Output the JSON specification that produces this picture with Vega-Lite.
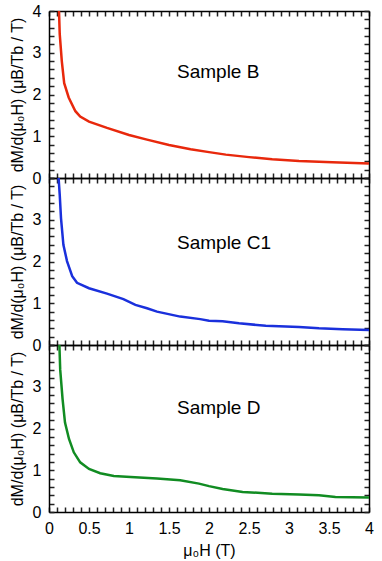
{
  "$schema": "https://vega.github.io/schema/vega-lite/v6.json",
  "padding": {"left": 9, "top": 3, "right": 5, "bottom": 5},
  "background": "white",
  "bounds": "flush",
  "spacing": 0,
  "datasets": {
    "B": [
      {"H": 0.125, "dM": 4.0}, {"H": 0.134, "dM": 3.45}, {"H": 0.16, "dM": 2.8}, {"H": 0.19, "dM": 2.27},
      {"H": 0.246, "dM": 1.93}, {"H": 0.33, "dM": 1.6}, {"H": 0.39, "dM": 1.47}, {"H": 0.5, "dM": 1.35},
      {"H": 0.725, "dM": 1.2}, {"H": 1.0, "dM": 1.03}, {"H": 1.225, "dM": 0.92}, {"H": 1.5, "dM": 0.79},
      {"H": 1.77, "dM": 0.69}, {"H": 2.0, "dM": 0.62}, {"H": 2.21, "dM": 0.56}, {"H": 2.5, "dM": 0.5},
      {"H": 2.79, "dM": 0.45}, {"H": 3.125, "dM": 0.41}, {"H": 3.54, "dM": 0.38}, {"H": 4.0, "dM": 0.35}
    ],
    "C1": [
      {"H": 0.12, "dM": 4.0}, {"H": 0.134, "dM": 3.6}, {"H": 0.15, "dM": 3.04}, {"H": 0.18, "dM": 2.4},
      {"H": 0.225, "dM": 2.01}, {"H": 0.29, "dM": 1.65}, {"H": 0.35, "dM": 1.49}, {"H": 0.5, "dM": 1.36},
      {"H": 0.725, "dM": 1.23}, {"H": 0.93, "dM": 1.1}, {"H": 1.08, "dM": 0.96}, {"H": 1.225, "dM": 0.88},
      {"H": 1.35, "dM": 0.8}, {"H": 1.64, "dM": 0.68}, {"H": 1.89, "dM": 0.62}, {"H": 2.0, "dM": 0.58},
      {"H": 2.17, "dM": 0.57}, {"H": 2.375, "dM": 0.52}, {"H": 2.71, "dM": 0.46}, {"H": 3.125, "dM": 0.43},
      {"H": 3.375, "dM": 0.4}, {"H": 3.67, "dM": 0.38}, {"H": 4.0, "dM": 0.36}
    ],
    "D": [
      {"H": 0.13, "dM": 4.0}, {"H": 0.14, "dM": 3.41}, {"H": 0.17, "dM": 2.7}, {"H": 0.2, "dM": 2.14},
      {"H": 0.25, "dM": 1.75}, {"H": 0.31, "dM": 1.43}, {"H": 0.39, "dM": 1.19}, {"H": 0.5, "dM": 1.03},
      {"H": 0.64, "dM": 0.93}, {"H": 0.81, "dM": 0.86}, {"H": 1.02, "dM": 0.84}, {"H": 1.35, "dM": 0.8},
      {"H": 1.64, "dM": 0.76}, {"H": 1.875, "dM": 0.68}, {"H": 2.0, "dM": 0.62}, {"H": 2.17, "dM": 0.55},
      {"H": 2.42, "dM": 0.48}, {"H": 2.79, "dM": 0.44}, {"H": 3.125, "dM": 0.42}, {"H": 3.375, "dM": 0.4},
      {"H": 3.58, "dM": 0.36}, {"H": 4.0, "dM": 0.35}
    ]
  },
  "config": {
    "view": {"stroke": null},
    "axis": {
      "grid": false,
      "domainColor": "black",
      "domainWidth": 1.5,
      "tickColor": "#222222",
      "tickWidth": 1.5,
      "labelFont": "Liberation Sans",
      "labelFontSize": 16,
      "labelColor": "black",
      "titleFont": "Liberation Sans",
      "titleFontSize": 16,
      "titleFontWeight": "normal",
      "titleColor": "black"
    }
  },
  "vconcat": [
    {
      "width": 320,
      "height": 167,
      "layer": [
        {
          "data": {"name": "B"},
          "mark": {"type": "line", "color": "#e8280c", "strokeWidth": 2.5},
          "encoding": {
            "x": {"field": "H", "type": "quantitative", "scale": {"domain": [0, 4], "nice": false},
              "axis": {"orient": "bottom", "tickCount": 40, "labels": false, "title": null, "tickSize": -5}},
            "y": {"field": "dM", "type": "quantitative", "scale": {"domain": [0, 4], "nice": false},
              "axis": {"orient": "left", "tickCount": 20, "labelOverlap": false, "labelFlush": false, "labelBound": false,
                "labelExpr": "round(datum.value*5)%5==0 ? format(datum.value,'d') : ''",
                "labelPadding": 13, "titlePadding": 7, "title": "dM/d(μ₀H)  (μB/Tb / T)", "tickSize": -5}}
          }
        },
        {
          "data": {"values": [{"label": "Sample B"}]},
          "mark": {"type": "text", "align": "left", "baseline": "middle", "fontSize": 19, "font": "Liberation Sans", "color": "black"},
          "encoding": {
            "x": {"datum": 1.6, "type": "quantitative",
              "axis": {"orient": "top", "tickCount": 40, "labels": false, "title": null, "tickSize": -5}},
            "y": {"datum": 2.55, "type": "quantitative",
              "axis": {"orient": "right", "tickCount": 20, "labels": false, "title": null, "tickSize": -5}},
            "text": {"field": "label"}
          }
        }
      ],
      "resolve": {"axis": {"x": "independent", "y": "independent"}}
    },
    {
      "width": 320,
      "height": 167,
      "layer": [
        {
          "data": {"name": "C1"},
          "mark": {"type": "line", "color": "#1a30dc", "strokeWidth": 2.5},
          "encoding": {
            "x": {"field": "H", "type": "quantitative", "scale": {"domain": [0, 4], "nice": false},
              "axis": {"orient": "bottom", "tickCount": 40, "labels": false, "title": null, "tickSize": -5}},
            "y": {"field": "dM", "type": "quantitative", "scale": {"domain": [0, 4], "nice": false},
              "axis": {"orient": "left", "tickCount": 20, "labelOverlap": false, "labelFlush": false, "labelBound": false,
                "labelExpr": "round(datum.value*5)%5==0 && datum.value < 3.5 ? format(datum.value,'d') : ''",
                "labelPadding": 13, "titlePadding": 7, "title": "dM/d(μ₀H)  (μB/Tb / T)", "tickSize": -5}}
          }
        },
        {
          "data": {"values": [{"label": "Sample C1"}]},
          "mark": {"type": "text", "align": "left", "baseline": "middle", "fontSize": 19, "font": "Liberation Sans", "color": "black"},
          "encoding": {
            "x": {"datum": 1.6, "type": "quantitative",
              "axis": {"orient": "top", "tickCount": 40, "labels": false, "title": null, "tickSize": -5}},
            "y": {"datum": 2.45, "type": "quantitative",
              "axis": {"orient": "right", "tickCount": 20, "labels": false, "title": null, "tickSize": -5}},
            "text": {"field": "label"}
          }
        }
      ],
      "resolve": {"axis": {"x": "independent", "y": "independent"}}
    },
    {
      "width": 320,
      "height": 167,
      "layer": [
        {
          "data": {"name": "D"},
          "mark": {"type": "line", "color": "#118c22", "strokeWidth": 2.5},
          "encoding": {
            "x": {"field": "H", "type": "quantitative", "scale": {"domain": [0, 4], "nice": false},
              "axis": {"orient": "bottom", "tickCount": 40, "labelOverlap": false, "labelFlush": false, "labelBound": false,
                "labelExpr": "round(datum.value*10)%5==0 ? format(datum.value,'~g') : ''",
                "labelPadding": 13, "titlePadding": 6, "title": "μ₀H (T)", "tickSize": -5}},
            "y": {"field": "dM", "type": "quantitative", "scale": {"domain": [0, 4], "nice": false},
              "axis": {"orient": "left", "tickCount": 20, "labelOverlap": false, "labelFlush": false, "labelBound": false,
                "labelExpr": "round(datum.value*5)%5==0 && datum.value < 3.5 ? format(datum.value,'d') : ''",
                "labelPadding": 13, "titlePadding": 7, "title": "dM/d(μ₀H)  (μB/Tb / T)", "tickSize": -5}}
          }
        },
        {
          "data": {"values": [{"label": "Sample D"}]},
          "mark": {"type": "text", "align": "left", "baseline": "middle", "fontSize": 19, "font": "Liberation Sans", "color": "black"},
          "encoding": {
            "x": {"datum": 1.6, "type": "quantitative",
              "axis": {"orient": "top", "tickCount": 40, "labels": false, "title": null, "tickSize": -5}},
            "y": {"datum": 2.48, "type": "quantitative",
              "axis": {"orient": "right", "tickCount": 20, "labels": false, "title": null, "tickSize": -5}},
            "text": {"field": "label"}
          }
        }
      ],
      "resolve": {"axis": {"x": "independent", "y": "independent"}}
    }
  ]
}
